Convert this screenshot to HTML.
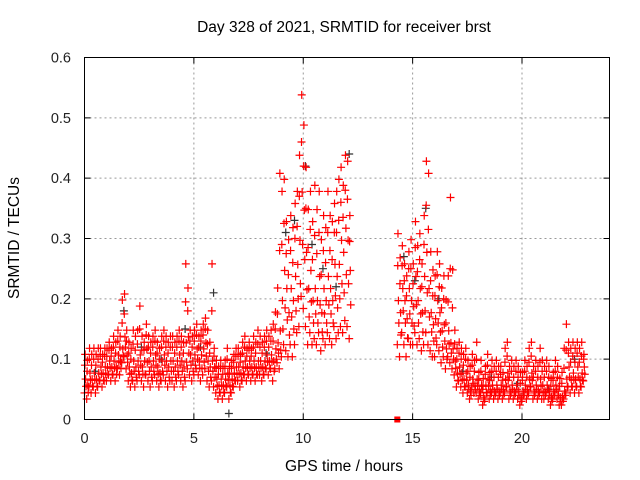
<!DOCTYPE html>
<html><head><meta charset="utf-8"><style>
body{margin:0;background:#fff;}
svg{display:block;font-family:"Liberation Sans",sans-serif;}
</style></head><body>
<svg id="chart" width="640" height="480">
<rect x="0" y="0" width="640" height="480" fill="#fff"/>
<text x="344" y="32" font-size="15.5" text-anchor="middle">Day 328 of 2021, SRMTID for receiver brst</text>
<text x="344" y="471" font-size="15.5" text-anchor="middle">GPS time / hours</text>
<text transform="translate(19,238) rotate(-90)" font-size="15.5" text-anchor="middle">SRMTID / TECUs</text>
<g id="grid"></g><g id="ticks"></g><g id="marks"></g>
<rect x="84.5" y="57.5" width="525" height="362" fill="none" stroke="#000" stroke-width="1"/>
</svg>
<script>
const xTicks=[0,5,10,15,20];
const yTicks=[0,0.1,0.2,0.3,0.4,0.5,0.6];
const yTickLabels=["0","0.1","0.2","0.3","0.4","0.5","0.6"];
const segAStart=0.0, segBStart=14.3, stepHour=0.1;
const loA=[.04,.03,.05,.04,.05,.04,.05,.06,.05,.06,.06,.07,.06,.07,.06,.08,.07,.09,.10,.08,.06,.05,.06,.05,.06,.07,.06,.05,.07,.06,.05,.06,.07,.06,.05,.06,.07,.06,.05,.06,.06,.05,.06,.07,.06,.05,.06,.08,.07,.06,.07,.08,.07,.06,.07,.08,.06,.05,.06,.05,.04,.03,.04,.03,.04,.05,.03,.04,.05,.06,.06,.05,.06,.07,.06,.07,.06,.07,.06,.07,.07,.06,.07,.08,.07,.08,.06,.08,.09,.08,.10,.12,.11,.10,.12,.10,.12,.14,.15,.20,.18,.15,.12,.14,.12,.13,.12,.14,.11,.13,.12,.14,.13,.12,.15,.13,.14,.15,.14,.16,.15,.13];
const midA=[.07,.06,.08,.07,.08,.07,.08,.09,.08,.09,.09,.10,.09,.10,.09,.11,.10,.12,.14,.11,.09,.08,.10,.09,.10,.11,.09,.10,.12,.10,.09,.10,.11,.09,.08,.10,.11,.10,.09,.10,.10,.09,.10,.11,.10,.09,.13,.14,.11,.10,.11,.12,.10,.11,.12,.13,.10,.09,.10,.09,.07,.06,.07,.06,.07,.08,.06,.07,.08,.09,.09,.08,.09,.10,.09,.10,.09,.10,.09,.10,.10,.09,.10,.11,.10,.11,.10,.12,.13,.15,.20,.25,.22,.18,.22,.20,.24,.26,.30,.38,.35,.28,.22,.25,.20,.22,.20,.24,.18,.22,.20,.24,.22,.20,.26,.24,.26,.30,.28,.32,.30,.25];
const hiA=[.11,.10,.12,.11,.12,.11,.12,.12,.11,.12,.12,.13,.12,.14,.13,.15,.14,.20,.21,.15,.13,.12,.15,.14,.15,.19,.14,.13,.16,.14,.13,.14,.15,.13,.12,.14,.15,.14,.13,.14,.14,.13,.14,.15,.14,.13,.26,.22,.15,.14,.15,.16,.14,.15,.16,.17,.15,.13,.26,.12,.10,.09,.10,.09,.10,.12,.09,.10,.11,.12,.12,.11,.13,.14,.12,.13,.12,.14,.13,.15,.14,.13,.14,.15,.14,.15,.16,.18,.22,.41,.38,.40,.33,.30,.34,.32,.36,.38,.44,.54,.49,.42,.35,.38,.33,.39,.35,.38,.30,.34,.32,.38,.34,.33,.36,.38,.40,.42,.39,.44,.43,.34];
const loB=[.12,.10,.14,.12,.10,.13,.12,.12,.14,.12,.13,.11,.12,.14,.12,.11,.10,.10,.12,.11,.09,.10,.08,.10,.09,.08,.07,.05,.06,.05,.04,.05,.04,.03,.05,.04,.04,.03,.04,.02,.03,.04,.03,.04,.03,.04,.03,.04,.03,.04,.05,.03,.04,.03,.04,.03,.02,.03,.04,.03,.04,.05,.03,.04,.03,.04,.03,.03,.04,.03,.02,.03,.04,.03,.02,.02,.03,.04,.05,.04,.05,.04,.05,.04,.05,.06];
const midB=[.20,.18,.22,.20,.17,.22,.20,.19,.24,.20,.22,.18,.24,.28,.22,.18,.16,.17,.20,.18,.15,.16,.12,.15,.13,.12,.10,.08,.09,.08,.07,.08,.06,.05,.07,.06,.07,.05,.06,.04,.06,.07,.05,.06,.05,.06,.05,.06,.05,.07,.08,.05,.06,.05,.06,.05,.04,.05,.06,.05,.07,.08,.05,.06,.05,.07,.06,.05,.06,.05,.04,.05,.06,.05,.04,.04,.05,.07,.09,.07,.08,.07,.09,.07,.08,.09];
const hiB=[.31,.27,.29,.26,.24,.28,.30,.26,.33,.29,.31,.26,.34,.43,.41,.28,.25,.24,.28,.26,.22,.24,.20,.24,.37,.25,.15,.12,.13,.12,.11,.12,.10,.09,.11,.10,.13,.08,.10,.07,.09,.11,.08,.10,.09,.10,.09,.09,.08,.12,.13,.09,.10,.09,.10,.09,.08,.08,.10,.09,.12,.13,.09,.10,.09,.12,.10,.09,.10,.09,.07,.08,.10,.09,.07,.08,.12,.16,.13,.12,.13,.12,.13,.12,.13,.11];
const blackHours=[0.5,1.8,2.6,3.5,4.6,5.3,5.9,6.6,8.3,9.2,9.6,10.1,10.4,10.9,11.5,12.1,14.6,15.1,15.6,16.2,17.3,18.6,19.8,21.2,22.4];
const blackVals=[0.08,0.18,0.12,0.10,0.15,0.12,0.21,0.01,0.11,0.31,0.33,0.42,0.29,0.25,0.22,0.44,0.27,0.23,0.35,0.20,0.08,0.07,0.06,0.05,0.10];
const gapHour=14.3, gapVal=0;

const X0=84.5,X1=609.5,XMAX=24,Y0=419.5,Y1=57.5,YMAX=0.6;
const xs=h=>X0+(X1-X0)*h/XMAX;
const ys=v=>Y0-(Y0-Y1)*v/YMAX;
const NS="http://www.w3.org/2000/svg";
function mk(tag,at,parent){const e=document.createElementNS(NS,tag);for(const k in at)e.setAttribute(k,at[k]);parent.appendChild(e);return e;}
const grid=document.getElementById('grid'),ticks=document.getElementById('ticks'),marks=document.getElementById('marks');
xTicks.forEach(t=>{const x=xs(t);
 if(t>0&&t<XMAX){const g=mk('line',{x1:x,x2:x,y1:Y1,y2:Y0,stroke:'#999','stroke-dasharray':'2,3','stroke-width':1},grid);
 
 }
 const tk=mk('path',{d:`M${x},${Y0}v-6M${x},${Y1}v6`,stroke:'#000'},ticks);
 
 
 const lb=mk('text',{x:x,y:443,'font-size':14.5,'text-anchor':'middle',fill:'#222'},ticks);lb.textContent=String(t);
 
 
});
yTicks.forEach((t,i)=>{const y=ys(t);
 if(t>0&&t<YMAX){const g=mk('line',{x1:X0,x2:X1,y1:y,y2:y,stroke:'#999','stroke-dasharray':'2,3','stroke-width':1},grid);
 
 }
 const tk=mk('path',{d:`M${X0},${y}h6M${X1},${y}h-6`,stroke:'#000'},ticks);
 
 
 const lb=mk('text',{x:71,y:y+5,'font-size':14.5,'text-anchor':'end',fill:'#222'},ticks);lb.textContent=yTickLabels[i];
 
 
});
function plus(h,v,col,name){const x=xs(h),y=ys(v);
 const p=mk('path',{d:`M${x-4},${y}h8M${x},${y-4}v8`,stroke:col,'stroke-width':1.2,fill:'none'},marks);
 
 }
function seg(start,lo,mid,hi){
 for(let i=0;i<lo.length;i++){const h=start+i*stepHour;
  plus(h,lo[i]+0.004,'#f00','srmtid-point');
  plus(h+0.05,mid[i]-0.003,'#f00','srmtid-point');
  plus(h+0.03,hi[i]-0.002,'#f00','srmtid-point');
  plus(h+0.07,(lo[i]+mid[i])/2,'#f00','srmtid-point');
  plus(h+0.02,(mid[i]+hi[i])/2,'#f00','srmtid-point');}
}
blackHours.forEach((h,i)=>plus(h,blackVals[i],'#333','srmtid-point-alt'));
seg(segAStart,loA,midA,hiA);
seg(segBStart,loB,midB,hiB);
const sq=mk('rect',{x:xs(gapHour)-3,y:ys(gapVal)-3,width:6,height:6,fill:'#f00'},marks);


</script>
</body></html>
